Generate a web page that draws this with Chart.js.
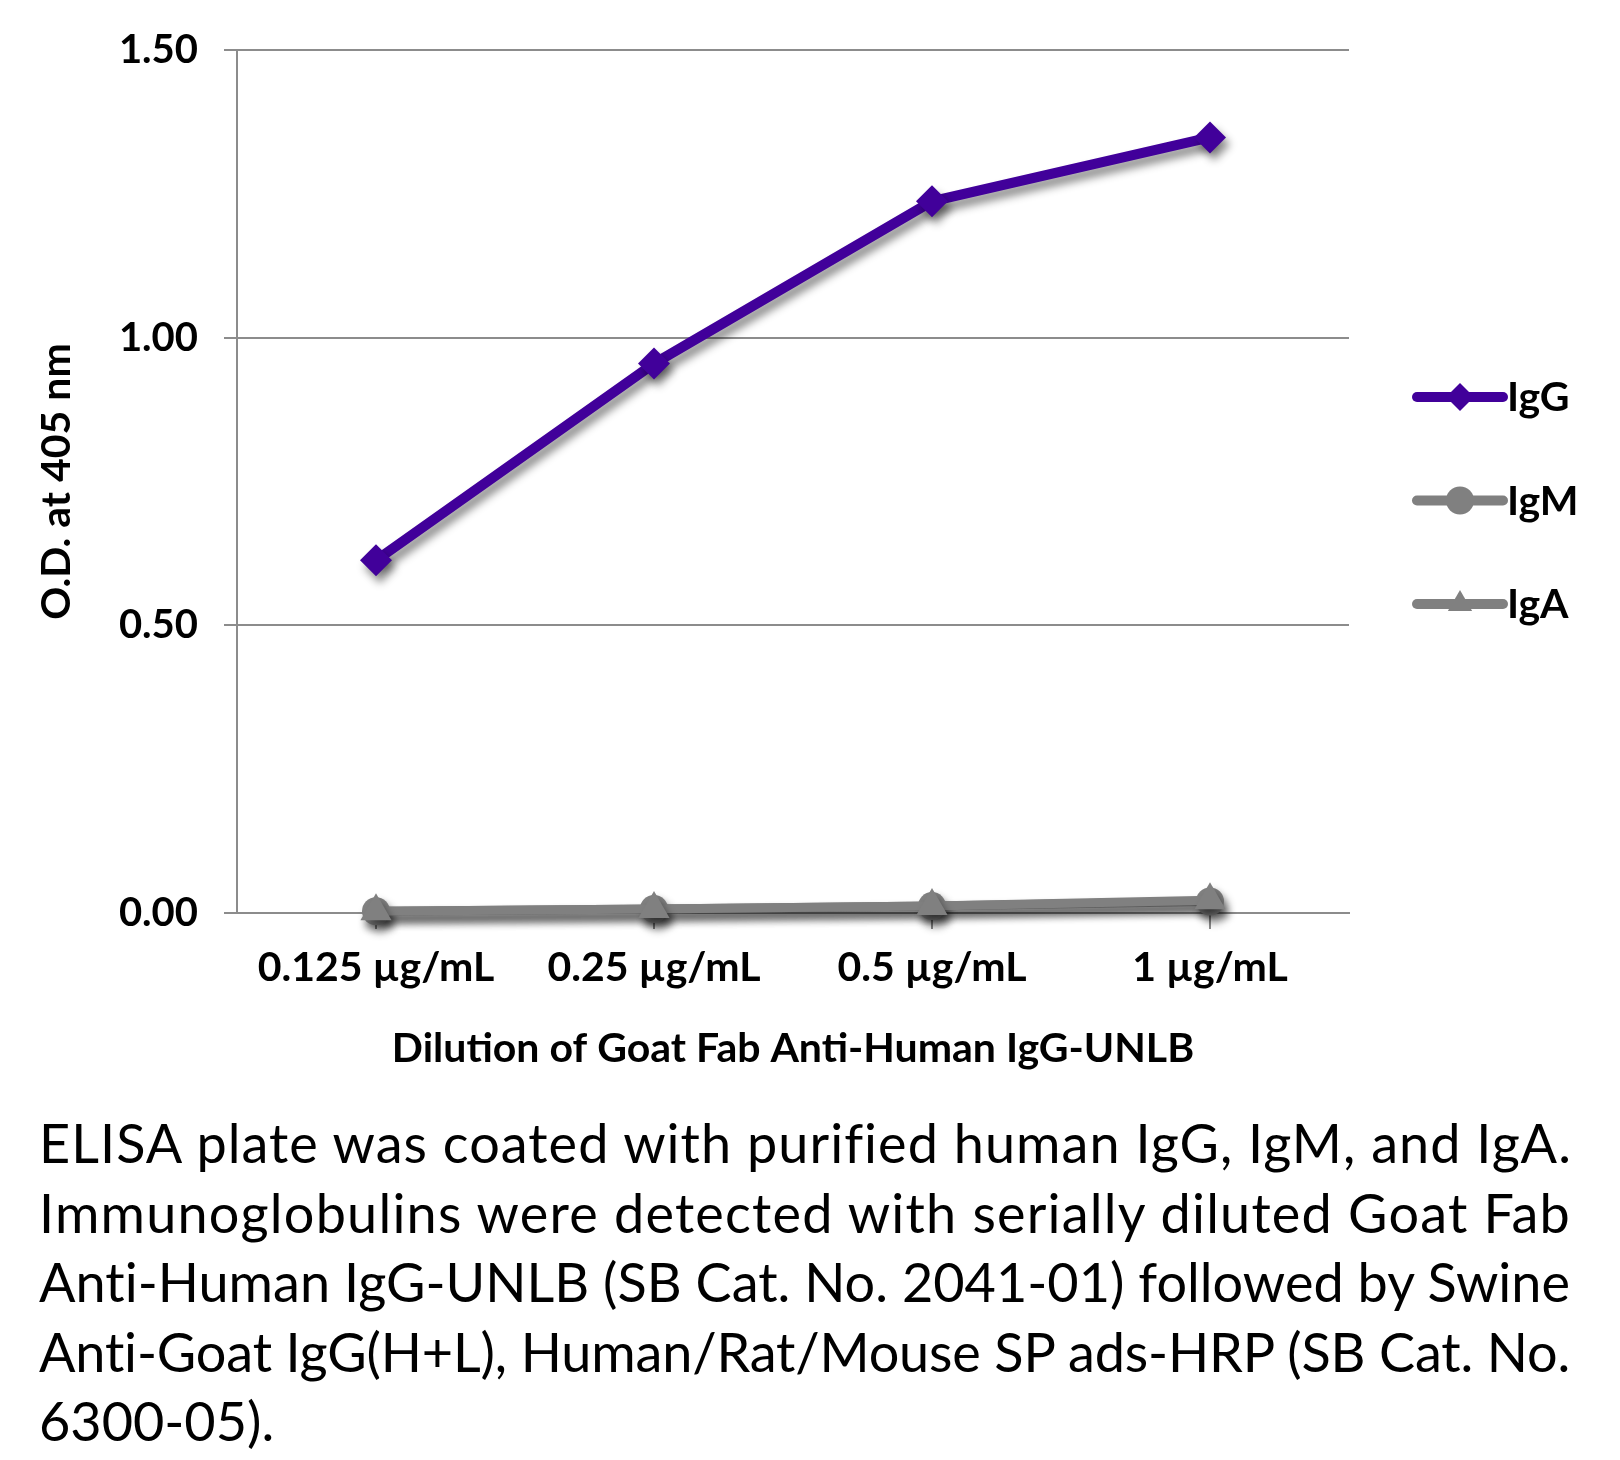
<!DOCTYPE html>
<html lang="en">
<head>
<meta charset="UTF-8">
<title>ELISA - Goat Fab Anti-Human IgG-UNLB</title>
<script src="https://cdn.jsdelivr.net/npm/chart.js"></script>
<style>
  body { margin: 0; background: #fff; }
  #wrap { position: relative; width: 1620px; height: 1080px; }
  #caption { position: absolute; left: 39px; top: 1108px;
             font-family: Lato, sans-serif; font-size: 54px; line-height: 69.5px; color: #000; }
  #caption div { white-space: nowrap; }
  #caption span { display: inline-block; }
</style>
</head>
<body>
<div id="wrap"><canvas id="elisaChart"></canvas></div>
<div id="caption">
  <div><span class="fit">ELISA plate was coated with purified human IgG, IgM, and IgA.</span></div>
  <div><span class="fit">Immunoglobulins were detected with serially diluted Goat Fab</span></div>
  <div><span class="fit">Anti-Human IgG-UNLB (SB Cat. No. 2041-01) followed by Swine</span></div>
  <div><span class="fit">Anti-Goat IgG(H+L), Human/Rat/Mouse SP ads-HRP (SB Cat. No.</span></div>
  <div><span>6300-05).</span></div>
</div>
<script>
// values
var dilutions = ['0.125 µg/mL', '0.25 µg/mL', '0.5 µg/mL', '1 µg/mL'];
var iggValues = [0.613, 0.955, 1.237, 1.348];
var igmValues = [0.003, 0.007, 0.012, 0.020];
var igaValues = [0.003, 0.007, 0.012, 0.022];
var yTicks = [0, 0.5, 1.0, 1.5];

var purple = '#41009a';
var grey = '#808080';
var axisGrey = '#8c8c8c';
var boldFont = { family: 'Lato', weight: 'bold', size: 41, lineHeight: 1.2 };

// caption lines are set flush to both edges in the original
var captionWidth = 1532;
document.querySelectorAll('#caption .fit').forEach(function(el) {
  var w = el.getBoundingClientRect().width;
  var n = el.textContent.length;
  el.style.letterSpacing = ((captionWidth - w) / n).toFixed(3) + 'px';
});

// drop shadow under lines and markers
var shadowPlugin = {
  id: 'shadow',
  beforeDatasetsDraw: function(chart) {
    var c = chart.ctx;
    c.save();
    c.shadowColor = 'rgba(0,0,0,0.45)';
    c.shadowBlur = 8;
    c.shadowOffsetX = 4;
    c.shadowOffsetY = 7;
  },
  afterDatasetsDraw: function(chart) {
    chart.ctx.restore();
  }
};

// legend on the right: line sample with marker in the middle
var sideLegend = {
  id: 'sideLegend',
  afterDraw: function(chart) {
    var c = chart.ctx;
    var x0 = chart.chartArea.right + 68;
    var y0 = 397, gap = 103.5;
    chart.data.datasets.forEach(function(ds, i) {
      var y = y0 + i * gap;
      c.save();
      c.strokeStyle = ds.borderColor;
      c.lineWidth = 10;
      c.lineCap = 'round';
      c.beginPath();
      c.moveTo(x0, y);
      c.lineTo(x0 + 86, y);
      c.stroke();
      c.fillStyle = ds.borderColor;
      c.strokeStyle = ds.borderColor;
      Chart.helpers.drawPoint(c, { pointStyle: ds.pointStyle, radius: 14, borderWidth: 0, rotation: 0 }, x0 + 43, y);
      c.fillStyle = '#000';
      c.font = 'bold 41px Lato';
      c.textBaseline = 'middle';
      c.textAlign = 'left';
      c.fillText(ds.label, x0 + 90, y + 1);
      c.restore();
    });
  }
};

var ctx = document.getElementById('elisaChart').getContext('2d');
var chart = new Chart(ctx, {
  type: 'line',
  data: {
    labels: dilutions,
    datasets: [{
      label: 'IgG',
      data: iggValues,
      order: 0,
      borderColor: purple,
      backgroundColor: purple,
      borderWidth: 10,
      pointStyle: 'rectRot',
      pointRadius: 16,
      pointBorderWidth: 0,
      clip: false
    }, {
      label: 'IgM',
      data: igmValues,
      order: 2,
      borderColor: grey,
      backgroundColor: grey,
      borderWidth: 9,
      pointStyle: 'circle',
      pointRadius: 14,
      pointBorderWidth: 0,
      clip: false
    }, {
      label: 'IgA',
      data: igaValues,
      order: 1,
      borderColor: grey,
      backgroundColor: grey,
      borderWidth: 9,
      pointStyle: 'triangle',
      pointRadius: 18,
      pointBorderWidth: 0,
      clip: false
    }]
  },
  options: {
    responsive: true,
    maintainAspectRatio: false,
    devicePixelRatio: 1,
    animation: false,
    layout: { padding: { top: 46, right: 271, left: 0, bottom: 0 } },
    plugins: {
      legend: { display: false },
      tooltip: { enabled: false }
    },
    scales: {
      x: {
        offset: true,
        grid: { drawOnChartArea: false, drawTicks: true, tickLength: 16, color: axisGrey, lineWidth: 2 },
        border: { color: axisGrey, width: 2 },
        ticks: { color: '#000', font: boldFont, padding: 14, maxRotation: 0 },
        title: {
          display: true,
          text: 'Dilution of Goat Fab Anti-Human IgG-UNLB',
          color: '#000',
          font: boldFont,
          padding: { top: 0, bottom: 7 }
        },
        afterFit: function(s) { s.height = 167; }
      },
      y: {
        min: 0,
        max: 1.5,
        afterBuildTicks: function(s) {
          s.ticks = yTicks.map(function(v) { return { value: v }; });
        },
        grid: { color: axisGrey, lineWidth: 2, tickLength: 13 },
        border: { color: axisGrey, width: 2 },
        ticks: {
          color: '#000',
          font: { family: 'Lato', weight: 'bold', size: 40, lineHeight: 1.2 },
          padding: 26,
          callback: function(v) { return Number(v).toFixed(2); }
        },
        title: {
          display: true,
          text: 'O.D. at 405 nm',
          color: '#000',
          font: { family: 'Lato', weight: 'bold', size: 41, lineHeight: 1.2 },
          padding: { top: 32, bottom: 0 }
        },
        afterFit: function(s) { s.width = 237; }
      }
    }
  },
  plugins: [shadowPlugin, sideLegend]
});
</script>
</body>
</html>
